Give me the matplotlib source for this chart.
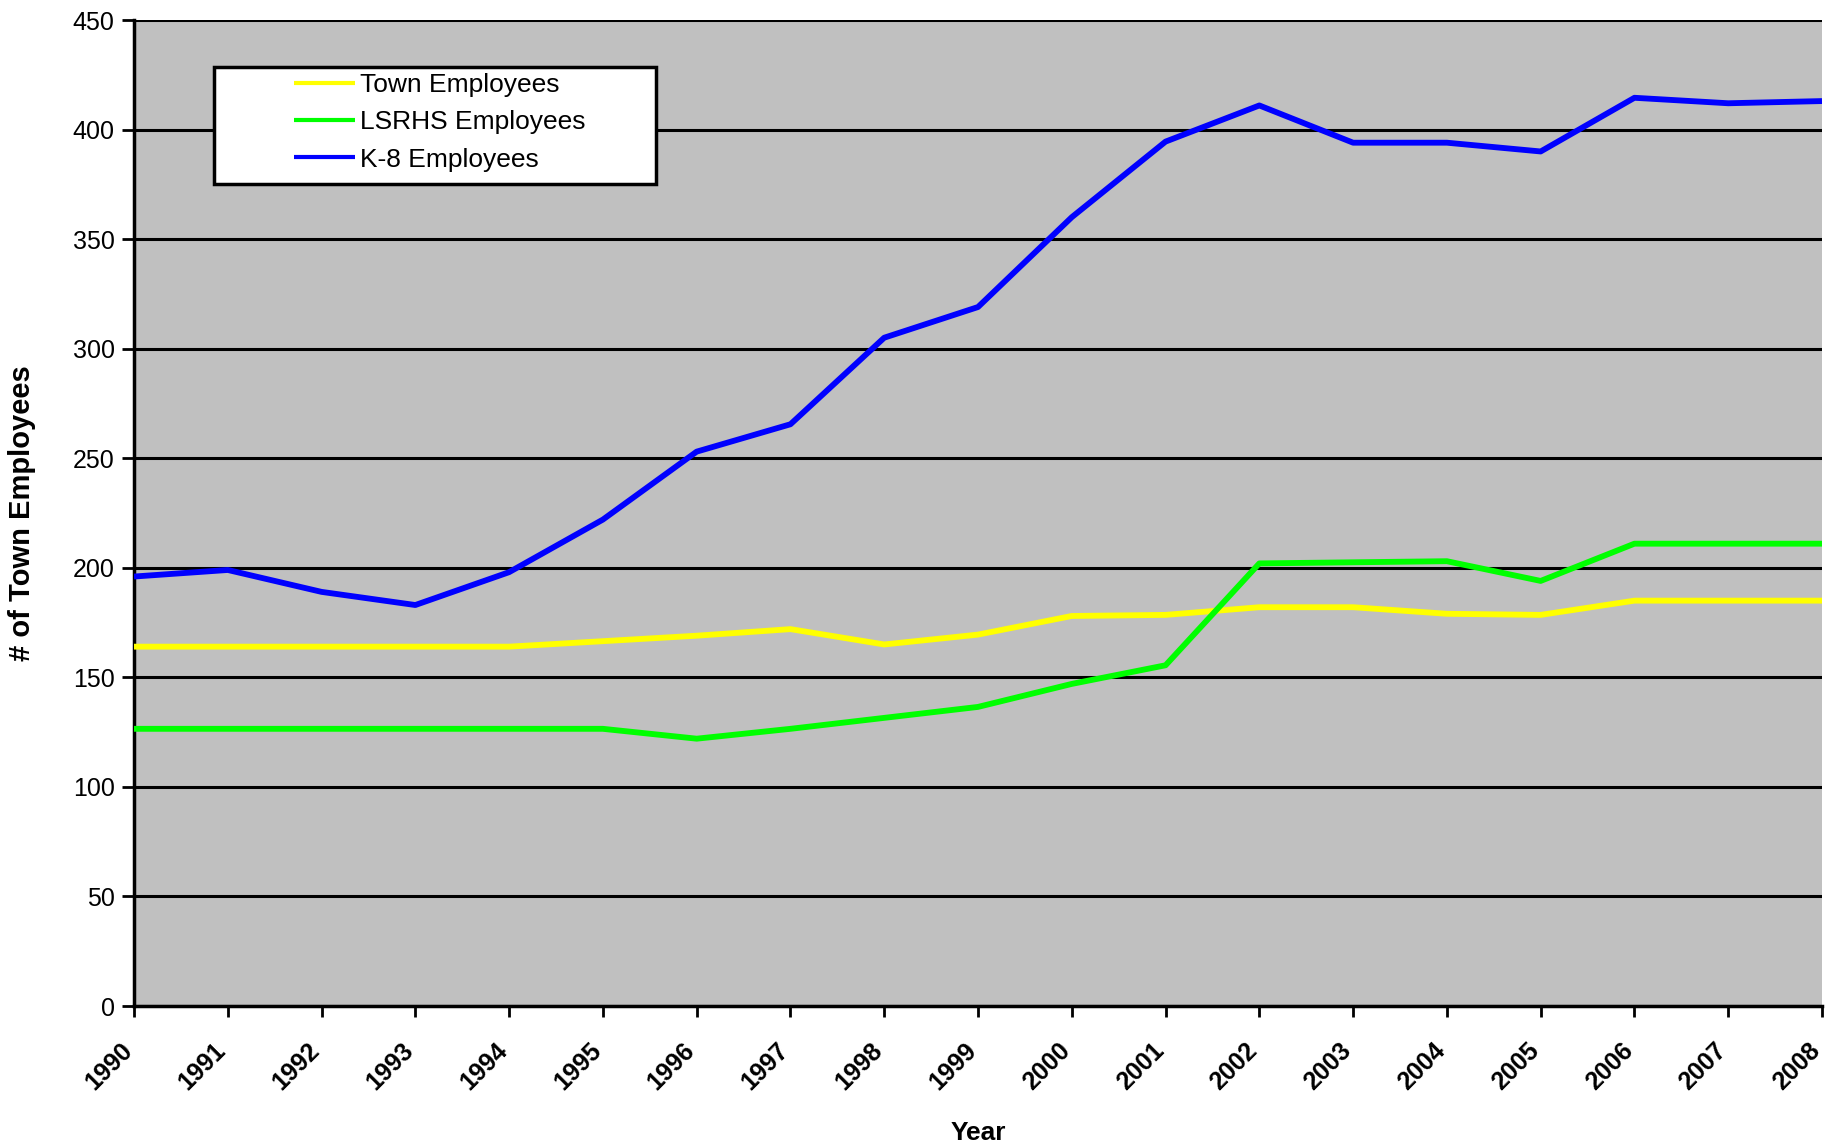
import matplotlib
matplotlib.use("Agg")
import matplotlib.pyplot as plt
from matplotlib.patches import Rectangle
from matplotlib.transforms import ScaledTranslation

# data
years = list(range(1990, 2009))
town = [164, 164, 164, 164, 164, 166.5, 169, 172, 165, 169.5, 178, 178.5, 182, 182, 179, 178.5, 185, 185, 185]
lsrhs = [126.5, 126.5, 126.5, 126.5, 126.5, 126.5, 122, 126.5, 131.5, 136.5, 147, 155.5, 202, 202.5, 203, 194, 211, 211, 211]
k8 = [196, 199, 189, 183, 198, 222, 253, 265.5, 305, 319, 360, 394.5, 411, 394, 394, 390, 414.5, 412, 413]

series_names = ["Town Employees", "LSRHS Employees", "K-8 Employees"]
series_colors = ["#FFFF00", "#00FF00", "#0000FF"]
yticks = [0, 50, 100, 150, 200, 250, 300, 350, 400, 450]

plt.rcParams['font.family'] = ['Liberation Sans', 'DejaVu Sans']

fig = plt.figure(figsize=(18.31, 11.45), dpi=100)
ax = fig.add_axes([134 / 1831, 1 - 1006 / 1145, 1688 / 1831, 986 / 1145])
ax.set_facecolor("#C0C0C0")

handles = []
for vals, name, col in zip([town, lsrhs, k8], series_names, series_colors):
    h, = ax.plot(years, vals, color=col, lw=4.2, solid_capstyle='butt', label=name, zorder=3)
    handles.append(h)

ax.set_xlim(1990, 2008)
ax.set_ylim(0, 450)
ax.set_yticks(yticks)
ax.set_xticks(years)
ax.set_xticklabels([str(y) for y in years], rotation=45, ha='right', va='top',
                   rotation_mode='anchor', fontsize=18, fontweight='bold')
ax.tick_params(axis='y', labelsize=18, length=9, width=2, pad=5)
ax.tick_params(axis='x', length=8, width=2, pad=15)
# shift the year labels a little to the left, as in the original
shift = ScaledTranslation(-14 / 100, 0, fig.dpi_scale_trans)
for lab in ax.get_xticklabels():
    lab.set_transform(lab.get_transform() + shift)

ax.set_axisbelow(True)
ax.yaxis.grid(True, color='black', lw=2.2)
for s in ['top', 'right']:
    ax.spines[s].set_visible(False)
for s in ['left', 'bottom']:
    ax.spines[s].set_linewidth(2.5)

ax.set_ylabel("# of Town Employees", fontsize=21, fontweight='bold')
ax.yaxis.set_label_coords(-0.058, 0.5)
ax.set_xlabel("Year", fontsize=19, fontweight='bold')
ax.xaxis.set_label_coords(0.5, -0.117)

# legend box
bx0 = (214 - 134) / 1688
by0 = (1006 - 184) / 986
box = Rectangle((bx0, by0), 442 / 1688, 117 / 986, transform=ax.transAxes,
                facecolor='white', edgecolor='black', lw=2.5, zorder=4)
ax.add_patch(box)
leg = ax.legend(handles=handles, loc='upper left',
                bbox_to_anchor=((289 - 134) / 1688, (1006 - 68) / 986),
                frameon=False, fontsize=19, handlelength=2.3, handletextpad=0.2,
                labelspacing=0.5, borderpad=0.2, borderaxespad=0)
leg.set_zorder(5)
for lh in leg.get_lines():
    lh.set_linewidth(3)

fig.savefig("out.png", dpi=100, facecolor='white')
